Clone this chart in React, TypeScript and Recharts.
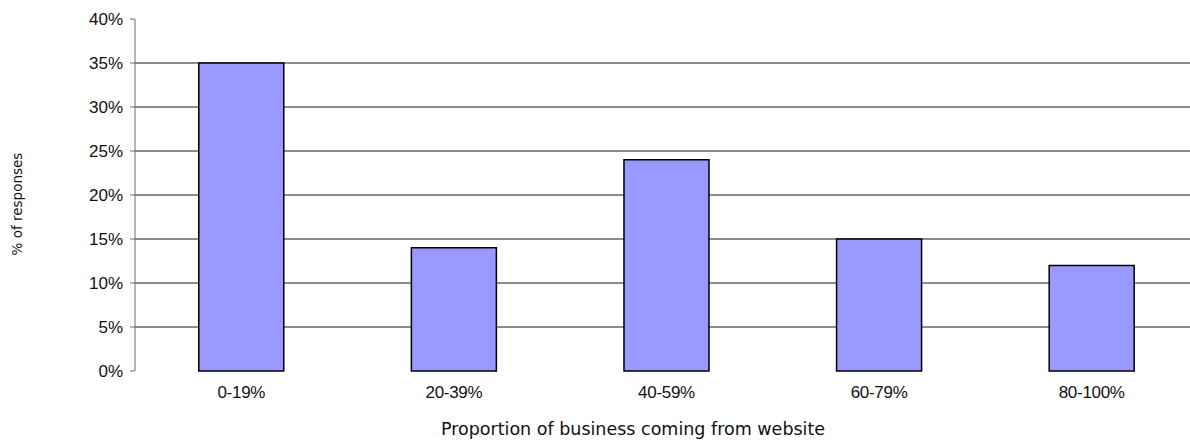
import React from 'react';
import { BarChart, Bar, XAxis, YAxis, CartesianGrid, Label } from 'recharts';

const categories = ['0-19%', '20-39%', '40-59%', '60-79%', '80-100%'];
const responses = [35, 14, 24, 15, 12];
const yTicks = [0, 5, 10, 15, 20, 25, 30, 35, 40];
const gridValues = [5, 10, 15, 20, 25, 30, 35];
const boundaryTicks = [0, 1, 2, 3, 4, 5];

const data = categories.map((name, i) => ({ name, value: responses[i] }));

const axisStroke = '#6b6b6b';
const gridStroke = '#1a1a1a';
const tickFamily = '"Liberation Sans", Arial, sans-serif';
const titleFamily = '"DejaVu Sans", Tahoma, sans-serif';

const CategoryTick = (props: any) => {
  const { x, y, payload } = props;
  return (
    <text x={x} y={y + 27} textAnchor="middle" fontFamily={tickFamily} fontSize={17} fill="#111" letterSpacing={-0.3}>
      {payload.value}
    </text>
  );
};

const PercentTick = (props: any) => {
  const { x, y, payload } = props;
  return (
    <text x={x} y={y} dy={6} textAnchor="end" fontFamily={tickFamily} fontSize={17} fill="#111">
      {`${payload.value}%`}
    </text>
  );
};

export default function App() {
  return (
    <div style={{ position: 'absolute', left: 0, top: 0, width: 1190, height: 448, overflow: 'hidden', background: '#fff' }}>
      <BarChart
        width={1210}
        height={448}
        data={data}
        margin={{ top: 19, right: 12, left: 0, bottom: 0 }}
        barCategoryGap="30%"
      >
        <CartesianGrid vertical={false} horizontalValues={gridValues} stroke={gridStroke} strokeWidth={1} />
        <XAxis
          xAxisId="edges"
          type="number"
          domain={[0, 5]}
          ticks={boundaryTicks}
          tick={false}
          tickSize={6}
          height={0}
          stroke={axisStroke}
          axisLine={{ stroke: axisStroke }}
          tickLine={{ stroke: axisStroke }}
          allowDataOverflow
        />
        <XAxis
          xAxisId="cat"
          dataKey="name"
          height={77}
          axisLine={false}
          tickLine={false}
          tickSize={0}
          tickMargin={0}
          tick={<CategoryTick />}
          interval={0}
        >
          <Label
            content={() => (
              <text x={633} y={435} textAnchor="middle" fontFamily={titleFamily} fontSize={17.5} fill="#111">
                Proportion of business coming from website
              </text>
            )}
          />
        </XAxis>
        <YAxis
          width={135}
          domain={[0, 40]}
          ticks={yTicks}
          interval={0}
          tick={<PercentTick />}
          tickSize={5}
          tickMargin={7}
          stroke={axisStroke}
        >
          <Label
            content={() => (
              <text
                x={22}
                y={204}
                transform="rotate(-90 22 204)"
                textAnchor="middle"
                fontFamily={titleFamily}
                fontSize={13.5}
                fill="#111"
              >
                % of responses
              </text>
            )}
          />
        </YAxis>
        <Bar
          xAxisId="cat"
          dataKey="value"
          fill="#9999ff"
          stroke="#000"
          strokeWidth={1.5}
          isAnimationActive={false}
        />
      </BarChart>
    </div>
  );
}
